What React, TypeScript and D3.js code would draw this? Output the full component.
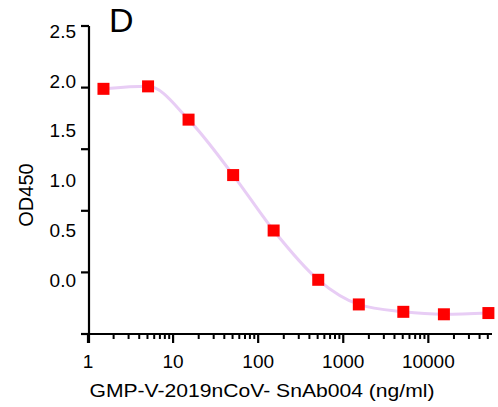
import React from "react";
import * as d3 from "d3";

const concentrations = [1.52, 5.08, 15.2, 50.8, 152, 508, 1524, 5080, 15240, 50800];
const od450 = [1.99, 2.01, 1.74, 1.29, 0.84, 0.44, 0.24, 0.18, 0.16, 0.17];
const yTicks = [0, 0.5, 1.0, 1.5, 2.0, 2.5];
const yTickLabels = ["0.0", "0.5", "1.0", "1.5", "2.0", "2.5"];
const xMajorTicks = [1, 10, 100, 1000, 10000];
const xTickLabels = ["1", "10", "100", "1000", "10000"];
const xTitle = "GMP-V-2019nCoV- SnAb004 (ng/ml)";
const yTitle = "OD450";
const panelLabel = "D";

const W = 498;
const H = 407;
const FONT = "'Liberation Sans', Arial, sans-serif";

export default function App() {
  const x = d3.scaleLog().domain([1, 56000]).range([88, 492]);
  const y = d3.scaleLinear().domain([0, 2.5]).range([334, 26]);
  // the tick labels in the reference sit on a slightly compressed spacing
  const yLabel = d3.scaleLinear().domain([0, 2.5]).range([280, 31]);

  const minorTicks: number[] = [];
  for (let dec = 1; dec <= 10000; dec *= 10) {
    for (let m = 2; m <= 9; m++) {
      const v = dec * m;
      if (v <= 56000) minorTicks.push(v);
    }
  }

  const pts: [number, number][] = concentrations.map((c, i) => [x(c), y(od450[i])]);
  const line = d3.line().curve(d3.curveMonotoneX)(pts) || "";

  return (
    <svg width={W} height={H} style={{ position: "absolute", left: 0, top: 0 }} fontFamily={FONT}>
      <rect width={W} height={H} fill="#fff" />
      <text x={109} y={32} fontSize={34} fill="#000">{panelLabel}</text>
      {/* fit line */}
      <path d={line} fill="none" stroke="#e8cdf5" strokeWidth={3} />
      {/* markers */}
      {pts.map(([px, py], i) => (
        <rect key={i} x={px - 6} y={py - 6} width={12} height={12} fill="#ff0000" />
      ))}
      {/* y axis */}
      <line x1={89} x2={89} y1={y(2.5)} y2={343} stroke="#000" strokeWidth={2.2} />
      {yTicks.map((t, i) => (
        <g key={t}>
          <line x1={81} x2={89} y1={y(t)} y2={y(t)} stroke="#000" strokeWidth={2.2} />
          <text x={76} y={yLabel(t)} dy="0.36em" textAnchor="end" fontSize={19} fill="#000">
            {yTickLabels[i]}
          </text>
        </g>
      ))}
      {/* x axis */}
      <line x1={81} x2={492} y1={334} y2={334} stroke="#000" strokeWidth={2.2} />
      {minorTicks.map((t) => (
        <line key={"m" + t} x1={x(t)} x2={x(t)} y1={334} y2={339} stroke="#000" strokeWidth={2} />
      ))}
      {xMajorTicks.map((t, i) => (
        <g key={t}>
          <line x1={x(t)} x2={x(t)} y1={334} y2={343} stroke="#000" strokeWidth={2.2} />
          <text x={x(t)} y={368} textAnchor="middle" fontSize={19} fill="#000">
            {xTickLabels[i]}
          </text>
        </g>
      ))}
      <text
        x={262}
        y={397}
        textAnchor="middle"
        fontSize={18}
        textLength={345}
        lengthAdjust="spacingAndGlyphs"
        fill="#000"
      >
        {xTitle}
      </text>
      <text
        transform={`translate(33,195) rotate(-90)`}
        textAnchor="middle"
        fontSize={20}
        fill="#000"
      >
        {yTitle}
      </text>
    </svg>
  );
}
